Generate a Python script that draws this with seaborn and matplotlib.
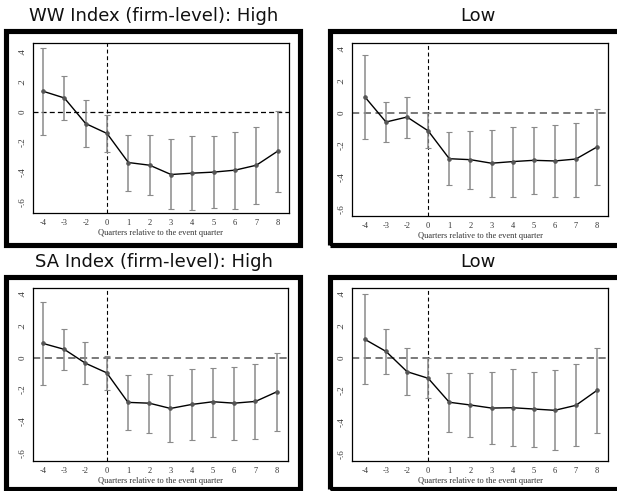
import numpy as np
import pandas as pd
import matplotlib
matplotlib.use("Agg")
import matplotlib.pyplot as plt
from matplotlib.patches import Rectangle
import seaborn as sns

# Event-time labels (quarter -1 is the omitted reference period)
quarters = ["-4", "-3", "-2", "0", "1", "2", "3", "4", "5", "6", "7", "8"]

# WW index, high constraint firms
ww_high_coef = [0.138, 0.093, -0.078, -0.144, -0.338, -0.356, -0.418, -0.409, -0.402, -0.389, -0.356, -0.262]
ww_high_lo = [-0.156, -0.056, -0.233, -0.271, -0.527, -0.558, -0.651, -0.656, -0.644, -0.647, -0.613, -0.533]
ww_high_hi = [0.427, 0.242, 0.078, -0.018, -0.151, -0.153, -0.184, -0.164, -0.162, -0.133, -0.100, 0.007]

# WW index, low constraint firms
ww_low_coef = [0.098, -0.058, -0.027, -0.113, -0.286, -0.292, -0.314, -0.304, -0.296, -0.300, -0.288, -0.213]
ww_low_lo = [-0.165, -0.182, -0.155, -0.221, -0.451, -0.474, -0.521, -0.521, -0.507, -0.527, -0.521, -0.451]
ww_low_hi = [0.359, 0.069, 0.100, 0.000, -0.120, -0.114, -0.109, -0.088, -0.086, -0.078, -0.062, 0.023]

# SA index, high constraint firms
sa_high_coef = [0.089, 0.052, -0.035, -0.095, -0.280, -0.285, -0.318, -0.293, -0.276, -0.285, -0.274, -0.214]
sa_high_lo = [-0.173, -0.078, -0.167, -0.202, -0.452, -0.470, -0.526, -0.513, -0.497, -0.515, -0.507, -0.460]
sa_high_hi = [0.348, 0.181, 0.095, 0.008, -0.111, -0.105, -0.109, -0.070, -0.064, -0.056, -0.037, 0.027]

# SA index, low constraint firms
sa_low_coef = [0.114, 0.039, -0.087, -0.128, -0.277, -0.294, -0.313, -0.311, -0.319, -0.327, -0.296, -0.203]
sa_low_lo = [-0.166, -0.104, -0.234, -0.253, -0.462, -0.493, -0.538, -0.547, -0.555, -0.576, -0.549, -0.466]
sa_low_hi = [0.395, 0.180, 0.062, 0.000, -0.093, -0.097, -0.087, -0.072, -0.089, -0.079, -0.041, 0.062]

titles = ["WW Index (firm-level): High", "Low", "SA Index (firm-level): High", "Low"]
y_ticks = [-0.6, -0.4, -0.2, 0.0, 0.2, 0.4]
y_tick_labels = ["-.6", "-.4", "-.2", "0", ".2", ".4"]
x_label = "Quarters relative to the event quarter"

sns.set_style("white")
plt.rcParams["font.family"] = ["Liberation Serif", "DejaVu Serif"]

W, H = 617, 491
fig = plt.figure(figsize=(W / 100, H / 100), dpi=100)


def fx(px):
    return px / W


def fy(py):
    return 1 - py / H


# panel layout in pixels: frame box (left, top, right, bottom), axes box, title centre
panels = [
    dict(frame=(5.5, 31.5, 299.5, 244.5), ax=(33, 43, 289, 213), ylim=(-0.675, 0.46),
         xlim=(-0.47, 11.53), title=(154, 16), hdash="black", hlw=0.9),
    dict(frame=(329.5, 31.5, 660, 244.5), ax=(352, 43, 608, 216), ylim=(-0.642, 0.433),
         xlim=(-0.61, 11.52), title=(478, 16), hdash="#6e6e6e", hlw=1.3),
    dict(frame=(5.5, 276.5, 299.5, 489), ax=(33, 288, 288, 461), ylim=(-0.647, 0.436),
         xlim=(-0.47, 11.53), title=(154, 262), hdash="#6e6e6e", hlw=1.3),
    dict(frame=(329.5, 276.5, 660, 489), ax=(352, 288, 608, 461), ylim=(-0.642, 0.433),
         xlim=(-0.61, 11.52), title=(478, 262), hdash="#6e6e6e", hlw=1.3),
]

series = [
    (ww_high_coef, ww_high_lo, ww_high_hi),
    (ww_low_coef, ww_low_lo, ww_low_hi),
    (sa_high_coef, sa_high_lo, sa_high_hi),
    (sa_low_coef, sa_low_lo, sa_low_hi),
]

for spec, (coef, lo, hi), title in zip(panels, series, titles):
    # thick black frame around each panel
    l, t, r, b = spec["frame"]
    fig.patches.append(Rectangle((fx(l), fy(b)), fx(r) - fx(l), fy(t) - fy(b),
                                 transform=fig.transFigure, fill=False,
                                 edgecolor="black", linewidth=3.7))
    tx, ty = spec["title"]
    fig.text(fx(tx), fy(ty), title, ha="center", va="center", fontsize=13,
             family=["DejaVu Sans"], color="#111111")

    al, at, ar, ab = spec["ax"]
    ax = fig.add_axes([fx(al), fy(ab), fx(ar) - fx(al), fy(at) - fy(ab)])

    df = pd.DataFrame({"pos": np.arange(len(quarters)), "coef": coef,
                       "lo": lo, "hi": hi})
    ax.errorbar(df["pos"], df["coef"],
                yerr=[df["coef"] - df["lo"], df["hi"] - df["coef"]],
                fmt="none", ecolor="#8a8a8a", elinewidth=1.1, capsize=2.2,
                capthick=0.8, zorder=2)
    ax.axhline(0, color=spec["hdash"], linestyle=(0, (4, 2.5)),
               linewidth=spec["hlw"], zorder=1)
    ax.axvline(3, color="black", linestyle=(0, (3.5, 2.5)), linewidth=0.8, zorder=1)
    sns.lineplot(data=df, x="pos", y="coef", ax=ax, color="black", linewidth=1.0,
                 marker="o", markersize=2.5, markerfacecolor="#555555",
                 markeredgecolor="#555555", zorder=3)

    ax.set_xlim(*spec["xlim"])
    ax.set_ylim(*spec["ylim"])
    ax.set_xticks(np.arange(len(quarters)))
    ax.set_xticklabels(quarters, fontsize=6)
    ax.set_yticks(y_ticks)
    ax.set_yticklabels(y_tick_labels, fontsize=6.5, rotation=90, va="center")
    ax.tick_params(axis="both", direction="out", length=2.5, width=0.6,
                   pad=2, colors="black", labelcolor="#333333")
    ax.set_xlabel(x_label, fontsize=6, labelpad=1.5, color="#333333")
    ax.set_ylabel("")
    for sp in ax.spines.values():
        sp.set_visible(True)
        sp.set_color("black")
        sp.set_linewidth(0.9)

fig.savefig("out.png", dpi=100)
